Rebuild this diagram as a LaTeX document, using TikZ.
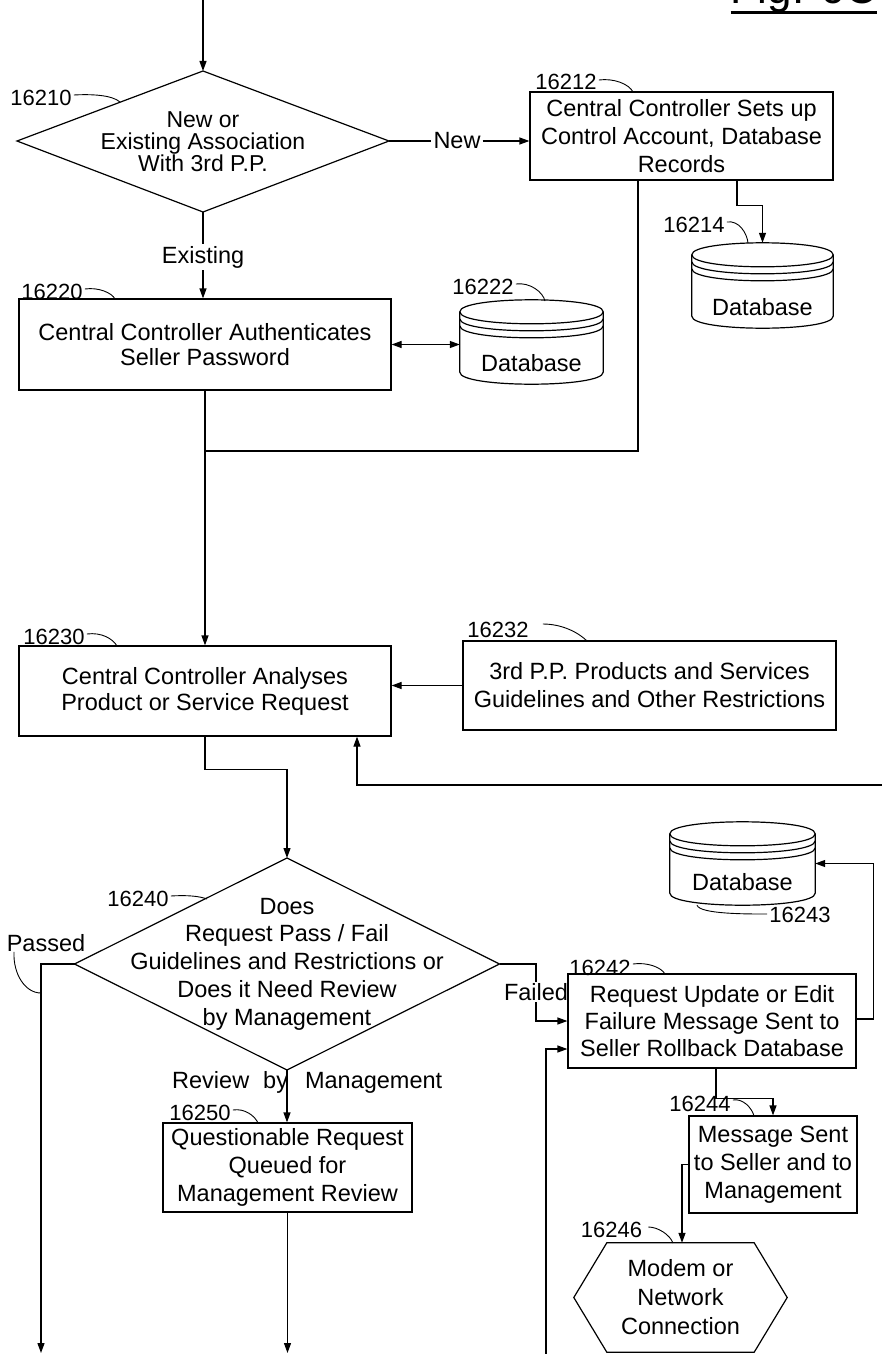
\documentclass[tikz,border=0pt]{standalone}
\usepackage{fontspec}
\setmainfont{Liberation Sans}
\usetikzlibrary{arrows.meta,calc}
\newcommand\dbcyl[1]{%
 \draw[ln] ([shift={(0,12)}]#1.north west)
   .. controls ([shift={(0,-4)}]#1.north west) and ([shift={(0,-4)}]#1.north east) .. ([shift={(0,12)}]#1.north east)
   -- ([shift={(0,-12)}]#1.south east)
   .. controls ([shift={(0,4)}]#1.south east) and ([shift={(0,4)}]#1.south west) .. ([shift={(0,-12)}]#1.south west)
   -- cycle;
 \foreach \o in {12,19,26}{%
 \draw[ln] ([shift={(0,\o)}]#1.north west)
   .. controls ([shift={(0,\o+16)}]#1.north west) and ([shift={(0,\o+16)}]#1.north east) .. ([shift={(0,\o)}]#1.north east);}%
}
\begin{document}
\begin{tikzpicture}[x=1pt,y=-1pt,
  ln/.style={line width=1.2pt},
  lead/.style={line width=0.9pt},
  arr/.style={ln,-{Triangle[length=10pt,width=7pt]}},
  darr/.style={ln,{Triangle[length=10pt,width=7pt]}-{Triangle[length=10pt,width=7pt]}},
  box/.style={draw,ln,align=center,inner sep=0pt},
  txt/.style={align=center,inner sep=0pt},
  dbbox/.style={inner sep=0pt},
  lbl/.style={inner sep=0pt,font=\fontsize{22}{22}\selectfont},
  every node/.append style={font=\fontsize{23.5}{28}\selectfont}]
\useasboundingbox (0,0) rectangle (882,1354);
\fill[white] (0,0) rectangle (882,1354);

% title
\node[anchor=base east,inner sep=0pt,font=\fontsize{44}{44}\selectfont] (title) at (877,4) {Fig. 6C};
\draw[line width=3pt] ([shift={(0,9)}]title.base west) -- ([shift={(0,9)}]title.base east);

% decision 16210
\coordinate (d1T) at (203,71);
\coordinate (d1B) at (203,212);
\coordinate (d1L) at (17,141);
\coordinate (d1R) at (389,141);
\draw[ln] (d1T) -- (d1R) -- (d1B) -- (d1L) -- cycle;
\node[txt,font=\fontsize{23}{22}\selectfont] (d1) at (203,142) {New or\\Existing Association\\With 3rd P.P.};
\coordinate (top) at (203,-2);
\draw[arr] (top) -- (d1T);

% boxes
\node[box,minimum width=303,minimum height=88] (b16212) at (681.5,136) {Central Controller Sets up\\Control Account, Database\\Records};
\node[box,minimum width=372,minimum height=91,font=\fontsize{23.5}{24.5}\selectfont] (b16220) at (205,344.5) {Central Controller Authenticates\\Seller Password};
\node[box,minimum width=372,minimum height=90,font=\fontsize{23.5}{26}\selectfont] (b16230) at (205,691) {Central Controller Analyses\\Product or Service Request};
\node[box,minimum width=373,minimum height=89] (b16232) at (649.5,685.5) {3rd P.P. Products and Services\\Guidelines and Other Restrictions};
\node[box,minimum width=288,minimum height=94,font=\fontsize{23.5}{27}\selectfont] (b16242) at (712,1021) {Request Update or Edit\\Failure Message Sent to\\Seller Rollback Database};
\node[box,minimum width=249,minimum height=89] (b16250) at (287.5,1167.5) {Questionable Request\\Queued for\\Management Review};
\node[box,minimum width=168,minimum height=97] (b16244) at (773,1164.5) {Message Sent\\to Seller and to\\Management};

% databases
\node[dbbox,minimum width=141,minimum height=85] (db1) at (762.5,285.5) {};
\dbcyl{db1}
\node[txt] (db1t) at (762.5,307) {Database};
\node[dbbox,minimum width=143,minimum height=84] (db2) at (531.5,342) {};
\dbcyl{db2}
\node[txt] (db2t) at (531.5,363) {Database};
\node[dbbox,minimum width=145,minimum height=83] (db3) at (742.5,863.5) {};
\dbcyl{db3}
\node[txt] (db3t) at (742.5,882) {Database};

% hexagon
\node[txt,minimum width=213,minimum height=109,font=\fontsize{23.5}{29}\selectfont] (hex) at (680.5,1297.5) {Modem or\\Network\\Connection};
\draw[ln] ([xshift=33pt]hex.north west) -- ([xshift=-33pt]hex.north east) -- (hex.east) -- ([xshift=-33pt]hex.south east) -- ([xshift=33pt]hex.south west) -- (hex.west) -- cycle;

% decision 16240
\coordinate (d2T) at (287,858);
\coordinate (d2B) at (287,1070);
\coordinate (d2L) at (74.5,964);
\coordinate (d2R) at (499.5,964);
\draw[ln] (d2T) -- (d2R) -- (d2B) -- (d2L) -- cycle;
\node[txt,font=\fontsize{23.5}{27.8}\selectfont] (d2) at (287,964) {Does\\Request Pass / Fail\\Guidelines and Restrictions or\\Does it Need Review\\by Management};

% connector labels
\node[inner sep=2pt] (ex) at (203,257) {Existing};
\node[inner sep=2pt] (new) at (457,141) {New};
\node[inner sep=0pt] (passed) at (46,943) {Passed};
\node[inner sep=1.5pt] (failed) at (536,992) {Failed};
\node[inner sep=0pt,anchor=west] (rev) at (172,1082) {Review\hspace{14pt}by\hspace{17pt}Management};

% connectors
\draw[ln] (d1B) -- (ex.north);
\draw[arr] (ex.south) -- (ex.south |- b16220.north);
\draw[ln] (d1R) -- (new.west |- d1R);
\draw[arr] (new.east |- d1R) -- (d1R -| b16212.west);
\draw[arr] ([xshift=55.5pt]b16212.south) -- ++(0,25) -| (db1.north);
\coordinate (j1) at (205,451);
\draw[ln] ([xshift=-43.5pt]b16212.south) |- (j1);
\draw[darr] (b16220.east) -- (b16220.east -| db2.west);
\draw[arr] (b16220.south) -- (b16230.north);
\draw[arr] (b16232.west) -- (b16232.west -| b16230.east);
\coordinate (r0) at (884,785);
\draw[arr] (r0) -| ([xshift=152pt]b16230.south);
\draw[arr] (b16230.south) -- ++(0,33) -| (d2T);
\coordinate (pend) at (41,1353);
\draw[arr] (d2L) -| (pend);
\draw[ln] (d2R) -| (failed.north);
\draw[arr] (failed.south) |- (b16242.west);
\coordinate (in2) at (546,1358);
\draw[arr] (in2) |- ([shift={(0,28)}]b16242.west);
\draw[arr] ([shift={(0,-2)}]b16242.east) -- ++(17,0) |- (db3.east);
\draw[arr] ([xshift=4pt]b16242.south) -- ++(0,30) -| (b16244.north);
\draw[arr] (d2B) -- (d2B |- b16250.north);
\coordinate (qend) at (287.5,1353);
\draw[arr] (b16250.south) -- (qend);
\draw[arr] (b16244.west) -| ([xshift=1.5pt]hex.north);

% reference numerals
\node[lbl] (l16210) at (41,98) {16210};
\node[lbl] (l16212) at (566,82) {16212};
\node[lbl] (l16214) at (694,225) {16214};
\node[lbl] (l16222) at (483,287) {16222};
\node[lbl] (l16220) at (52,292) {16220};
\node[lbl] (l16230) at (54,637) {16230};
\node[lbl] (l16232) at (498,630) {16232};
\node[lbl] (l16240) at (138,899) {16240};
\node[lbl] (l16242) at (600,968) {16242};
\node[lbl] (l16243) at (800,915) {16243};
\node[lbl] (l16250) at (200,1113) {16250};
\node[lbl] (l16244) at (700,1104) {16244};
\node[lbl] (l16246) at (611.5,1230) {16246};

\draw[lead] ([shift={(2,-3)}]l16210.east) .. controls +(18,-1) and +(-8,-7) .. (120,102);
\draw[lead] ([shift={(2,-2)}]l16212.east) .. controls +(15,-2) and +(-4,-8) .. (633,92);
\draw[lead] ([shift={(2,-3)}]l16214.east) .. controls +(12,-2) and +(-1,-10) .. (748,243);
\draw[lead] ([shift={(2,-3)}]l16222.east) .. controls +(14,-2) and +(-2,-9) .. (545,301);
\draw[lead] ([shift={(2,-3)}]l16220.east) .. controls +(14,-2) and +(-3,-6) .. (115,299);
\draw[lead] ([shift={(2,-3)}]l16230.east) .. controls +(15,-2) and +(-4,-7) .. (117,646);
\draw[lead] ([shift={(14,-6)}]l16232.east) .. controls +(20,0) and +(-8,-8) .. (587,641);
\draw[lead] ([shift={(2,-3)}]l16240.east) .. controls +(16,-1) and +(-8,-3) .. (207,899);
\draw[lead] ([xshift=-32pt]passed.south) .. controls +(-1,22) and +(-16,0) .. (41,993);
\draw[lead] ([shift={(2,-4)}]l16242.east) .. controls +(14,-2) and +(-4,-7) .. (665,974);
\draw[lead] ([xshift=-45.5pt]db3.south) .. controls +(3,9) and +(-20,0) .. ([shift={(-2,-1)}]l16243.west);
\draw[lead] ([shift={(2,-3)}]l16250.east) .. controls +(12,-2) and +(-3,-7) .. (258,1123);
\draw[lead] ([shift={(2,-4)}]l16244.east) .. controls +(10,-2) and +(-2,-8) .. (754,1116);
\draw[lead] ([shift={(6,-3)}]l16246.east) .. controls +(10,0) and +(-3,-8) .. (673,1243);
\end{tikzpicture}
\end{document}
